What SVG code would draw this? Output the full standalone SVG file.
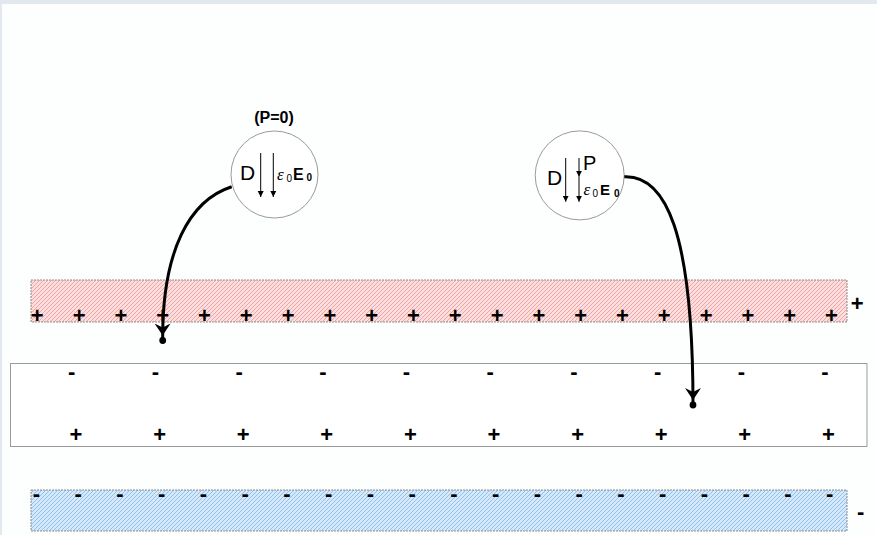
<svg xmlns="http://www.w3.org/2000/svg" width="877" height="535" viewBox="0 0 877 535">
<style>
  .sign { font-family: "Liberation Sans", Arial, sans-serif; font-weight: bold; font-size: 22px; text-anchor: middle; fill: #000; }
  .lbl { font-family: "Liberation Sans", Arial, sans-serif; fill: #000; }
  .eps { font-family: "Liberation Serif", "Times New Roman", serif; font-style: italic; fill: #000; }
  .bubble { fill: #fff; stroke: #9a9a9a; stroke-width: 1; }
  .plate { stroke: #8c8c8c; stroke-width: 1; stroke-dasharray: 2 1; }
  .vec { stroke: #000; stroke-width: 1; fill: none; marker-end: url(#small); }
  .conn { stroke: #000; stroke-width: 3; fill: none; marker-end: url(#arrowDot); }
</style>
<defs>
  <pattern id="hatchRed" patternUnits="userSpaceOnUse" width="4" height="4">
    <rect width="4" height="4" fill="#fcdede"/>
    <path d="M-1,1 L1,-1 M0,4 L4,0 M3,5 L5,3" stroke="#f0a4a4" stroke-width="1"/>
  </pattern>
  <pattern id="hatchBlue" patternUnits="userSpaceOnUse" width="4" height="4">
    <rect width="4" height="4" fill="#d6e9fa"/>
    <path d="M-1,1 L1,-1 M0,4 L4,0 M3,5 L5,3" stroke="#8ec1ee" stroke-width="1"/>
  </pattern>
  <marker id="small" markerUnits="userSpaceOnUse" markerWidth="8" markerHeight="8" refX="6" refY="3" orient="auto">
    <path d="M0,0 L6,3 L0,6 Z" fill="#000"/>
  </marker>
  <marker id="arrowDot" markerUnits="userSpaceOnUse" markerWidth="24" markerHeight="20" refX="17" refY="9" orient="auto">
    <path d="M0,1 L12,9 L0,17 L4,9 Z" fill="#000"/>
    <circle cx="17" cy="9" r="3.4" fill="#000"/>
  </marker>
</defs>

<rect width="877" height="535" fill="#fdfefe"/>
<rect width="877" height="4" fill="#e2e9ee"/>
<rect width="2" height="535" fill="#e2e9ee"/>

<g id="plate-top">
  <rect class="plate" x="31" y="280" width="816" height="42" fill="url(#hatchRed)"/>
  <text class="sign" y="322.7" x="37.3">+</text>
  <text class="sign" y="322.7" x="79.1">+</text>
  <text class="sign" y="322.7" x="120.9">+</text>
  <text class="sign" y="322.7" x="162.7">+</text>
  <text class="sign" y="322.7" x="204.5">+</text>
  <text class="sign" y="322.7" x="246.3">+</text>
  <text class="sign" y="322.7" x="288.1">+</text>
  <text class="sign" y="322.7" x="329.9">+</text>
  <text class="sign" y="322.7" x="371.7">+</text>
  <text class="sign" y="322.7" x="413.5">+</text>
  <text class="sign" y="322.7" x="455.3">+</text>
  <text class="sign" y="322.7" x="497.1">+</text>
  <text class="sign" y="322.7" x="538.9">+</text>
  <text class="sign" y="322.7" x="580.7">+</text>
  <text class="sign" y="322.7" x="622.5">+</text>
  <text class="sign" y="322.7" x="664.3">+</text>
  <text class="sign" y="322.7" x="706.1">+</text>
  <text class="sign" y="322.7" x="747.9">+</text>
  <text class="sign" y="322.7" x="789.7">+</text>
  <text class="sign" y="322.7" x="831.5">+</text>
  <text class="sign" y="311" x="857.3">+</text>
</g>

<g id="dielectric">
  <rect x="10.5" y="363.5" width="856.5" height="83" fill="#fff" stroke="#9a9a9a" stroke-width="1"/>
  <text class="sign" y="379.3" x="71.7">-</text>
  <text class="sign" y="379.3" x="155.4">-</text>
  <text class="sign" y="379.3" x="239.1">-</text>
  <text class="sign" y="379.3" x="322.8">-</text>
  <text class="sign" y="379.3" x="406.5">-</text>
  <text class="sign" y="379.3" x="490.2">-</text>
  <text class="sign" y="379.3" x="573.9">-</text>
  <text class="sign" y="379.3" x="657.6">-</text>
  <text class="sign" y="379.3" x="741.3">-</text>
  <text class="sign" y="379.3" x="825">-</text>
  <text class="sign" y="442.2" x="76">+</text>
  <text class="sign" y="442.2" x="159.6">+</text>
  <text class="sign" y="442.2" x="243.2">+</text>
  <text class="sign" y="442.2" x="326.8">+</text>
  <text class="sign" y="442.2" x="410.4">+</text>
  <text class="sign" y="442.2" x="494">+</text>
  <text class="sign" y="442.2" x="577.6">+</text>
  <text class="sign" y="442.2" x="661.2">+</text>
  <text class="sign" y="442.2" x="744.8">+</text>
  <text class="sign" y="442.2" x="828.4">+</text>
</g>

<g id="plate-bottom">
  <rect class="plate" x="31" y="490" width="816" height="41" fill="url(#hatchBlue)"/>
  <text class="sign" y="501" x="36.5">-</text>
  <text class="sign" y="501" x="78.25">-</text>
  <text class="sign" y="501" x="120">-</text>
  <text class="sign" y="501" x="161.75">-</text>
  <text class="sign" y="501" x="203.5">-</text>
  <text class="sign" y="501" x="245.25">-</text>
  <text class="sign" y="501" x="287">-</text>
  <text class="sign" y="501" x="328.75">-</text>
  <text class="sign" y="501" x="370.5">-</text>
  <text class="sign" y="501" x="412.25">-</text>
  <text class="sign" y="501" x="454">-</text>
  <text class="sign" y="501" x="495.75">-</text>
  <text class="sign" y="501" x="537.5">-</text>
  <text class="sign" y="501" x="579.25">-</text>
  <text class="sign" y="501" x="621">-</text>
  <text class="sign" y="501" x="662.75">-</text>
  <text class="sign" y="501" x="704.5">-</text>
  <text class="sign" y="501" x="746.25">-</text>
  <text class="sign" y="501" x="788">-</text>
  <text class="sign" y="501" x="829.75">-</text>
  <text class="sign" y="518.7" x="860.7">-</text>
</g>

<g id="bubble-vacuum">
  <text class="lbl" x="274" y="123" font-size="16" font-weight="bold" text-anchor="middle">(P=0)</text>
  <circle class="bubble" cx="274.5" cy="174.5" r="43.5"/>
  <text class="lbl" x="240" y="180" font-size="21">D</text>
  <line class="vec" x1="260.7" y1="153" x2="260.7" y2="197"/>
  <line class="vec" x1="273.3" y1="153" x2="273.3" y2="197"/>
  <text class="eps" x="277" y="180" font-size="17">ε</text>
  <text class="lbl" x="286.5" y="182" font-size="10">0</text>
  <text class="lbl" x="293" y="180" font-size="16" font-weight="bold">E</text>
  <text class="lbl" x="306.5" y="181" font-size="10" font-weight="bold">0</text>
</g>

<g id="bubble-dielectric">
  <circle class="bubble" cx="579.7" cy="175.4" r="44.5"/>
  <text class="lbl" x="547" y="185" font-size="21">D</text>
  <line class="vec" x1="565.7" y1="158" x2="565.7" y2="201.7"/>
  <line class="vec" x1="579" y1="158" x2="579" y2="176.7"/>
  <line class="vec" x1="579" y1="176.7" x2="579" y2="201.7"/>
  <text class="lbl" x="583" y="170" font-size="20">P</text>
  <text class="eps" x="583.5" y="195" font-size="17">ε</text>
  <text class="lbl" x="592.5" y="197" font-size="10">0</text>
  <text class="lbl" x="600" y="195" font-size="15" font-weight="bold">E</text>
  <text class="lbl" x="614" y="196.5" font-size="10" font-weight="bold">0</text>
</g>

<g id="connectors">
  <path class="conn" d="M231.7,186.7 C190,200 162,250 162.7,340.5"/>
  <path class="conn" d="M624.3,176.7 C665,175 693,230 693,405"/>
</g>
</svg>
